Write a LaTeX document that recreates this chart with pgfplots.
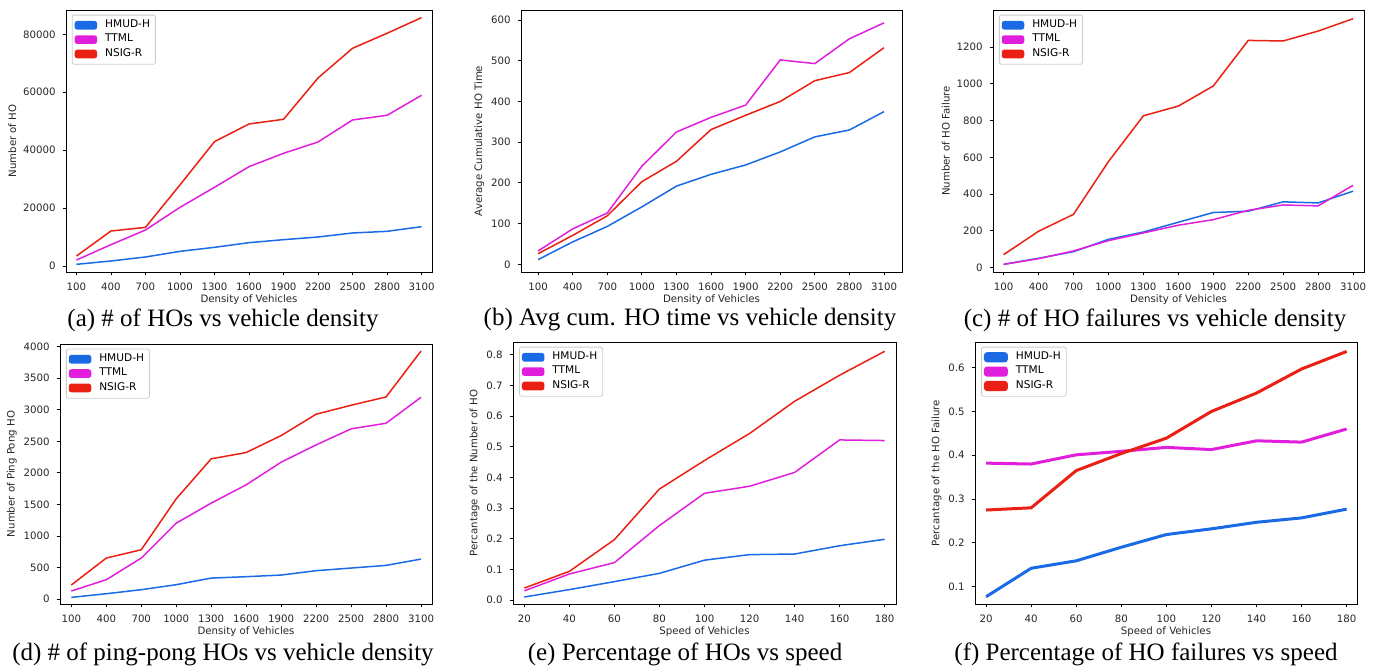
\documentclass[border=0pt]{standalone}
\usepackage{fontspec}
\setmainfont{Liberation Serif}
\newfontfamily\dejavu{DejaVu Sans}
\usepackage{pgfplots}
\pgfplotsset{compat=1.18}

\definecolor{hmud}{RGB}{26,106,230}
\definecolor{ttml}{RGB}{225,30,220}
\definecolor{nsig}{RGB}{235,32,20}

\pgfplotsset{
  hofig/.style={
    scale only axis,
    anchor=south west,
    tick align=outside,
    tick pos=left,
    major tick length=1.7pt,
    axis line style={line width=0.45pt},
    every tick/.style={line width=0.4pt, black},
    /pgf/number format/assume math mode=true,
    /pgf/number format/1000 sep={},
    scaled ticks=false,
    ticklabel style={font=\dejavu\fontsize{5.1}{6}\selectfont, text=black!85},
    label style={font=\dejavu\fontsize{5.1}{6}\selectfont, text=black!85},
    xlabel style={yshift=4.5pt},
    ylabel style={yshift=-3.5pt},
    xtick=data,
    every axis plot/.append style={no markers, line width=0.75pt},
    legend cell align=left,
    legend image code/.code={\fill[##1] (0pt,-1.8pt) rectangle (10.5pt,1.8pt);},
    legend style={at={(0.016,0.982)}, anchor=north west,
      font=\dejavu\fontsize{5.3}{6}\selectfont,
      draw=black!20, rounded corners=1pt, line width=0.4pt,
      inner xsep=1.2pt, inner ysep=1.5pt,
      nodes={inner ysep=0.9pt, inner xsep=1.5pt},
      column sep=2.5pt,
      row sep=0pt},
  },
}

\begin{document}
\begin{tikzpicture}
\useasboundingbox (0,0) rectangle (689.5pt,335.5pt);

% (a)
\begin{axis}[hofig, at={(33pt,199.5pt)}, width=183pt, height=131pt,
  xmin=9, xmax=3191, ymin=-2072, ymax=88390,
  ytick={0,20000,40000,60000,80000},
  xlabel={Density of Vehicles}, ylabel={Number of HO}]
\addplot[hmud] coordinates {(100,580) (400,1730) (700,3110) (1000,5060) (1300,6450) (1600,8060) (1900,9090) (2200,10010) (2500,11400) (2800,11970) (3100,13580)};
\addplot[ttml] coordinates {(100,2070) (400,7370) (700,12430) (1000,20260) (1300,27170) (1600,34300) (1900,38900) (2200,42820) (2500,50420) (2800,52030) (3100,58940)};
\addplot[nsig] coordinates {(100,3450) (400,12090) (700,13350) (1000,28000) (1300,42940) (1600,49040) (1900,50650) (2200,64920) (2500,75170) (2800,80350) (3100,85760)};
\legend{HMUD-H,TTML,NSIG-R}
\end{axis}

% (b)
\begin{axis}[hofig, at={(260.5pt,199.5pt)}, width=190.5pt, height=131pt,
  xmin=-48, xmax=3256, ymin=-18.9, ymax=624.6,
  ytick={0,100,...,600},
  xlabel={Density of Vehicles}, ylabel={Average Cumulative HO Time}]
\addplot[hmud] coordinates {(100,11.5) (400,55) (700,93) (1000,141) (1300,192) (1600,221) (1900,244) (2200,276) (2500,313) (2800,330) (3100,375)};
\addplot[ttml] coordinates {(100,32.8) (400,86.9) (700,126) (1000,241) (1300,325) (1600,361) (1900,391) (2200,502) (2500,493) (2800,554) (3100,593)};
\addplot[nsig] coordinates {(100,26) (400,71) (700,119) (1000,203) (1300,253) (1600,331) (1900,366) (2200,400) (2500,451) (2800,471) (3100,532)};
\end{axis}

% (c)
\begin{axis}[hofig, at={(496.5pt,199.5pt)}, width=185.5pt, height=131pt,
  xmin=9, xmax=3194, ymin=-23.6, ymax=1401.5,
  ytick={0,200,...,1200},
  xlabel={Density of Vehicles}, ylabel={Number of HO Failure}]
\addplot[hmud] coordinates {(100,18) (400,51) (700,87) (1000,154) (1300,194) (1600,247) (1900,300) (2200,307) (2500,358) (2800,352) (3100,416)};
\addplot[ttml] coordinates {(100,18) (400,49) (700,91) (1000,147) (1300,189) (1600,231) (1900,261) (2200,312) (2500,341) (2800,336) (3100,448)};
\addplot[nsig] coordinates {(100,70.8) (400,198) (700,290) (1000,577) (1300,826) (1600,879) (1900,988) (2200,1236) (2500,1233) (2800,1287) (3100,1354)};
\legend{HMUD-H,TTML,NSIG-R}
\end{axis}

% (d)
\begin{axis}[hofig, at={(30pt,33.5pt)}, width=186pt, height=130pt,
  xmin=3, xmax=3194, ymin=-79, ymax=4042,
  ytick={0,500,...,4000},
  xlabel={Density of Vehicles}, ylabel={Number of Ping Pong HO}]
\addplot[hmud] coordinates {(100,26) (400,84) (700,148) (1000,227) (1300,332) (1600,354) (1900,380) (2200,449) (2500,491) (2800,533) (3100,633)};
\addplot[ttml] coordinates {(100,127) (400,306) (700,649) (1000,1203) (1300,1520) (1600,1810) (1900,2169) (2200,2443) (2500,2697) (2800,2786) (3100,3198)};
\addplot[nsig] coordinates {(100,222) (400,649) (700,781) (1000,1588) (1300,2222) (1600,2322) (1900,2591) (2200,2929) (2500,3071) (2800,3203) (3100,3931)};
\legend{HMUD-H,TTML,NSIG-R}
\end{axis}

% (e)
\begin{axis}[hofig, at={(256.5pt,33.5pt)}, width=191.5pt, height=131pt,
  xmin=14.96, xmax=185.04, ymin=-0.013, ymax=0.8413,
  ytick={0,0.1,...,0.8},
  yticklabel style={/pgf/number format/fixed, /pgf/number format/precision=1, /pgf/number format/fixed zerofill},
  xlabel={Speed of Vehicles}, ylabel={Percantage of the Number of HO}]
\addplot[hmud] coordinates {(20,0.0098) (40,0.034) (60,0.060) (80,0.087) (100,0.130) (120,0.148) (140,0.150) (160,0.177) (180,0.198)};
\addplot[ttml] coordinates {(20,0.030) (40,0.085) (60,0.122) (80,0.243) (100,0.348) (120,0.371) (140,0.416) (160,0.522) (180,0.520)};
\addplot[nsig] coordinates {(20,0.039) (40,0.0935) (60,0.197) (80,0.362) (100,0.455) (120,0.543) (140,0.648) (160,0.733) (180,0.811)};
\legend{HMUD-H,TTML,NSIG-R}
\end{axis}

% (f)
\begin{axis}[hofig, at={(487.5pt,33.5pt)}, width=191pt, height=131pt,
  xmin=15.1, xmax=184.6, ymin=0.0604, ymax=0.6586,
  ytick={0.1,0.2,...,0.6},
  yticklabel style={/pgf/number format/fixed, /pgf/number format/precision=1, /pgf/number format/fixed zerofill},
  every axis plot/.append style={line width=1.5pt},
  xlabel={Speed of Vehicles}, ylabel={Percantage of the HO Failure}]
\addplot[hmud] coordinates {(20,0.077) (40,0.142) (60,0.159) (80,0.190) (100,0.219) (120,0.232) (140,0.247) (160,0.257) (180,0.277)};
\addplot[ttml] coordinates {(20,0.382) (40,0.380) (60,0.401) (80,0.409) (100,0.418) (120,0.413) (140,0.433) (160,0.430) (180,0.460)};
\addplot[nsig] coordinates {(20,0.275) (40,0.280) (60,0.365) (80,0.404) (100,0.439) (120,0.500) (140,0.542) (160,0.597) (180,0.637)};
\legend{HMUD-H,TTML,NSIG-R}
\end{axis}

\begin{scope}[every node/.style={font=\fontsize{12.5}{15}\selectfont, inner sep=0pt}]
\node at (111.5pt,175.5pt) {(a) \# of HOs vs vehicle density};
\node at (345pt,175.5pt) {(b) Avg cum. HO time vs vehicle density};
\node at (577.5pt,175.5pt) {(c) \# of HO failures vs vehicle density};
\node at (111.5pt,8.5pt) {(d) \# of ping-pong HOs vs vehicle density};
\node at (342.5pt,8.5pt) {(e) Percentage of HOs vs speed};
\node at (573pt,8.5pt) {(f) Percentage of HO failures vs speed};
\end{scope}
\end{tikzpicture}
\end{document}
